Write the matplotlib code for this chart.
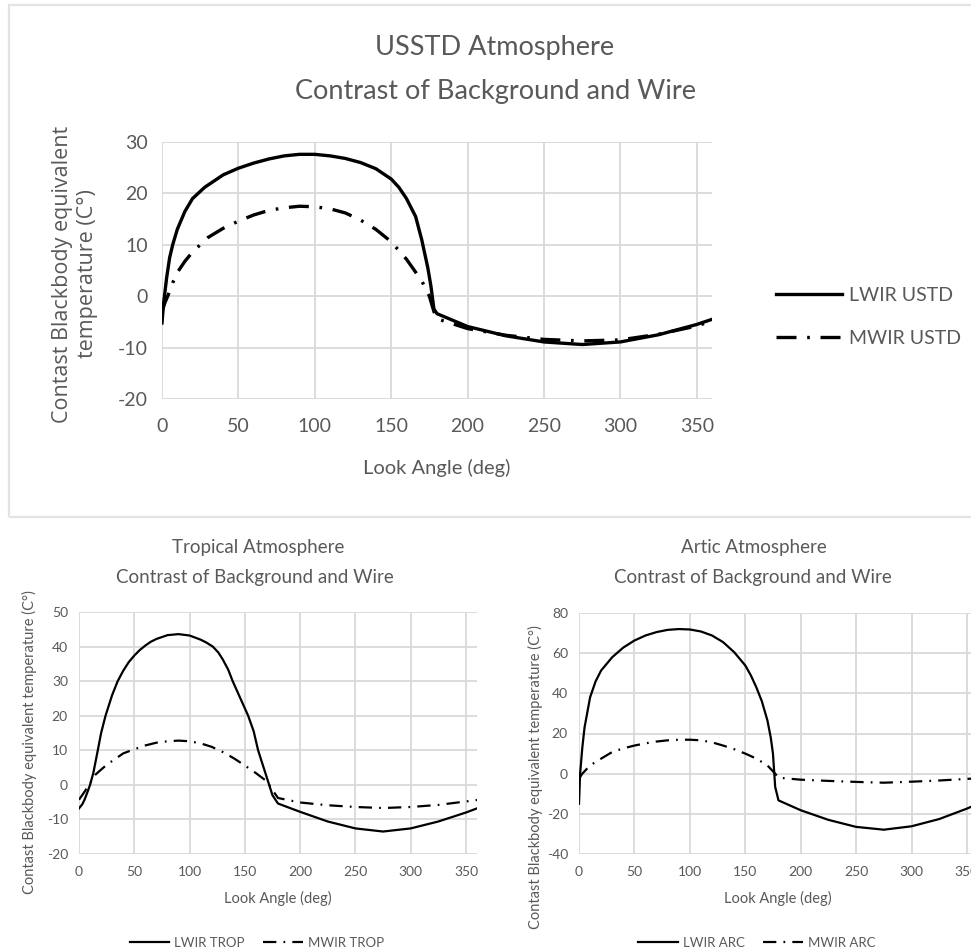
import matplotlib
matplotlib.use("Agg")
import matplotlib.pyplot as plt
from matplotlib.patches import Rectangle

plt.rcParams["axes.unicode_minus"] = False

# ---- data ----
# USSTD atmosphere
ang_lwir_ustd = [0, 1, 3, 5, 7, 10, 15, 20, 28, 40, 50, 60, 70, 80, 90, 100, 110, 120, 130,
                 140, 150, 155, 160, 166, 170, 174, 176, 178, 180, 200, 225, 250, 275, 300,
                 325, 350, 360]
lwir_ustd = [-5.2, -1.5, 3.5, 7.5, 10.0, 13.0, 16.5, 19.0, 21.2, 23.6, 24.9, 25.9, 26.7, 27.3,
             27.6, 27.6, 27.3, 26.8, 26.0, 24.8, 22.8, 21.2, 19.0, 15.5, 11.0, 5.5, 2.0,
             -2.5, -3.4, -5.9, -7.7, -8.9, -9.4, -8.9, -7.5, -5.5, -4.5]
ang_mwir_ustd = [0, 2, 4, 7, 10, 15, 20, 30, 40, 50, 60, 70, 80, 90, 100, 110, 120, 130, 140,
                 150, 160, 170, 175, 178, 180, 200, 225, 250, 275, 300, 325, 350, 360]
mwir_ustd = [-3.0, -1.2, 0.2, 2.6, 4.6, 6.8, 8.6, 11.4, 13.2, 14.6, 15.8, 16.7, 17.2, 17.5,
             17.4, 17.0, 16.2, 14.8, 13.0, 10.6, 7.2, 3.0, 0.0, -3.0, -4.4, -6.3, -7.6,
             -8.4, -8.7, -8.5, -7.4, -5.8, -4.8]

# Tropical atmosphere
ang_lwir_trop = [0, 3, 5, 8, 10, 13, 17, 20, 24, 30, 35, 40, 45, 50, 55, 60, 65, 70, 80, 90,
                 100, 110, 115, 121, 126, 130, 135, 139, 146, 153, 158, 162, 167, 172, 175,
                 180, 200, 225, 250, 275, 300, 325, 350, 360]
lwir_trop = [-6.8, -5.6, -4.3, -1.8, 0.0, 3.5, 10.0, 15.0, 20.0, 26.0, 30.0, 33.0, 35.5,
             37.4, 39.0, 40.3, 41.4, 42.2, 43.3, 43.6, 43.2, 42.0, 41.2, 40.0, 38.3, 36.3,
             33.3, 30.0, 25.0, 20.0, 15.5, 10.0, 5.0, 0.0, -3.0, -5.4, -7.8, -10.6, -12.6,
             -13.5, -12.6, -10.6, -8.0, -6.8]
ang_mwir_trop = [0, 5, 10, 15, 25, 40, 50, 60, 70, 80, 90, 100, 110, 120, 130, 140, 150,
                 160, 170, 175, 180, 200, 225, 250, 275, 300, 325, 350, 360]
mwir_trop = [-4.3, -2.0, 0.5, 3.0, 5.8, 9.1, 10.3, 11.4, 12.2, 12.6, 12.8, 12.6, 12.0,
             11.0, 9.5, 7.7, 5.6, 3.4, 1.0, -1.5, -3.8, -5.1, -5.9, -6.4, -6.7, -6.4,
             -5.8, -4.8, -4.4]

# Artic atmosphere
ang_lwir_arc = [0, 1, 3, 5, 10, 15, 20, 30, 40, 50, 60, 70, 80, 90, 100, 110, 120, 130,
                140, 150, 155, 160, 165, 170, 173, 175, 177, 180, 200, 225, 250, 275, 300,
                325, 350, 360]
lwir_arc = [-15.0, 0.0, 13.0, 23.0, 38.0, 46.0, 51.4, 58.0, 62.8, 66.3, 68.8, 70.5, 71.6,
            72.0, 71.8, 70.8, 68.8, 65.5, 60.5, 53.9, 49.0, 43.0, 36.0, 26.5, 18.0, 10.0,
            -6.6, -13.3, -18.2, -23.0, -26.5, -27.9, -26.2, -22.6, -17.4, -15.0]
ang_mwir_arc = [0, 3, 10, 20, 30, 40, 50, 60, 70, 80, 90, 100, 110, 120, 130, 140, 150,
                160, 170, 177, 180, 200, 225, 250, 275, 300, 325, 350, 360]
mwir_arc = [-2.5, 0.0, 4.1, 7.5, 10.8, 12.6, 14.0, 15.1, 16.0, 16.6, 16.9, 16.9, 16.6,
            15.6, 14.0, 12.2, 10.0, 7.5, 4.1, 0.0, -2.0, -3.0, -3.6, -4.1, -4.5, -4.0,
            -3.4, -2.6, -2.3]

x_ticks = [0, 50, 100, 150, 200, 250, 300, 350]

W, H = 971, 951
TXT = "#595959"
GRID = "#d9d9d9"
DASHDOT = (0, (6, 3.2, 0.8, 3.2))
FONT = "Lato"

fig = plt.figure(figsize=(W / 100, H / 100), dpi=100)
fig.patch.set_facecolor("white")


def px_axes(x0, x1, ytop, ybot):
    # axes placed from pixel coordinates (origin top-left)
    return fig.add_axes([x0 / W, 1 - ybot / H, (x1 - x0) / W, (ybot - ytop) / H])


def style_axes(ax, ylim, yticks, fs, xpad, ypad):
    ax.set_xlim(0, 360)
    ax.set_ylim(*ylim)
    ax.set_xticks(x_ticks)
    ax.set_yticks(yticks)
    ax.grid(True, color=GRID, linewidth=1.3)
    ax.set_axisbelow(True)
    for s in ax.spines.values():
        s.set_visible(False)
    ax.tick_params(length=0, labelsize=fs, labelcolor=TXT)
    ax.tick_params(axis="x", pad=xpad)
    ax.tick_params(axis="y", pad=ypad)
    for lab in ax.get_xticklabels() + ax.get_yticklabels():
        lab.set_fontfamily(FONT)


def ftext(x, y, s, **kw):
    fig.text(x / W, 1 - y / H, s, **kw)


def legend_color(leg):
    for t in leg.get_texts():
        t.set_color(TXT)


# ---- top chart: USSTD ----
fig.patches.append(Rectangle((9 / W, 1 - 517 / H), 1.0, (517 - 5) / H,
                             transform=fig.transFigure, fill=False,
                             edgecolor="#e3e3e3", linewidth=1.6))

ax1 = px_axes(162, 712, 142, 399)
style_axes(ax1, (-20, 30), [-20, -10, 0, 10, 20, 30], 14, 14, 10)
ax1.plot(ang_lwir_ustd, lwir_ustd, color="black", linewidth=2.4, label="LWIR USTD")
ax1.plot(ang_mwir_ustd, mwir_ustd, color="black", linewidth=2.4, linestyle=DASHDOT,
         label="MWIR USTD")
ftext(495, 48, "USSTD Atmosphere", ha="center", va="center", fontsize=19.5,
      color=TXT, family=FONT)
ftext(495, 91, "Contrast of Background and Wire", ha="center", va="center",
      fontsize=19.5, color=TXT, family=FONT)
ftext(437, 468, "Look Angle (deg)", ha="center", va="center", fontsize=14.5,
      color=TXT, family=FONT)
ftext(75, 274, "Contast Blackbody equivalent\ntemperature (C°)", ha="center",
      va="center", rotation=90, fontsize=15.5, color=TXT, family="Open Sans",
      linespacing=1.2)
leg1 = ax1.legend(loc="center left", frameon=False, handlelength=3.4,
                  labelspacing=1.35, handletextpad=0.4,
                  prop={"family": FONT, "size": 14})
leg1.set_bbox_to_anchor((758 / W, 1 - 317 / H), transform=fig.transFigure)
legend_color(leg1)

# ---- bottom left: Tropical ----
ax2 = px_axes(79, 477, 612, 854)
style_axes(ax2, (-20, 50), [-20, -10, 0, 10, 20, 30, 40, 50], 10, 9, 8)
ax2.plot(ang_lwir_trop, lwir_trop, color="black", linewidth=1.6, label="LWIR TROP")
ax2.plot(ang_mwir_trop, mwir_trop, color="black", linewidth=1.6, linestyle=DASHDOT,
         label="MWIR TROP")
ftext(258, 548, "Tropical Atmosphere", ha="center", va="center", fontsize=13.5,
      color=TXT, family=FONT)
ftext(255, 577, "Contrast of Background and Wire", ha="center", va="center",
      fontsize=13.5, color=TXT, family=FONT)
ftext(278, 898, "Look Angle (deg)", ha="center", va="center", fontsize=10.5,
      color=TXT, family=FONT)
ftext(29, 742, "Contast Blackbody equivalent temperature (C°)", ha="center",
      va="center", rotation=90, fontsize=10.5, color=TXT, family=FONT)
leg2 = ax2.legend(loc="center", frameon=False, ncol=2, handlelength=3.0,
                  columnspacing=1.4, handletextpad=0.4,
                  prop={"family": FONT, "size": 9.5})
leg2.set_bbox_to_anchor((257 / W, 1 - 943 / H), transform=fig.transFigure)
legend_color(leg2)

# ---- bottom right: Artic ----
ax3 = px_axes(579, 978, 613, 854)
style_axes(ax3, (-40, 80), [-40, -20, 0, 20, 40, 60, 80], 10, 9, 8)
ax3.plot(ang_lwir_arc, lwir_arc, color="black", linewidth=1.6, label="LWIR ARC")
ax3.plot(ang_mwir_arc, mwir_arc, color="black", linewidth=1.6, linestyle=DASHDOT,
         label="MWIR ARC")
ftext(754, 548, "Artic Atmosphere", ha="center", va="center", fontsize=13.5,
      color=TXT, family=FONT)
ftext(753, 577, "Contrast of Background and Wire", ha="center", va="center",
      fontsize=13.5, color=TXT, family=FONT)
ftext(778, 898, "Look Angle (deg)", ha="center", va="center", fontsize=10.5,
      color=TXT, family=FONT)
ftext(535, 777, "Contast Blackbody equivalent temperature (C°)", ha="center",
      va="center", rotation=90, fontsize=10.5, color=TXT, family=FONT)
leg3 = ax3.legend(loc="center", frameon=False, ncol=2, handlelength=3.0,
                  columnspacing=1.4, handletextpad=0.4,
                  prop={"family": FONT, "size": 9.5})
leg3.set_bbox_to_anchor((757 / W, 1 - 943 / H), transform=fig.transFigure)
legend_color(leg3)

fig.savefig("out.png", dpi=100)
